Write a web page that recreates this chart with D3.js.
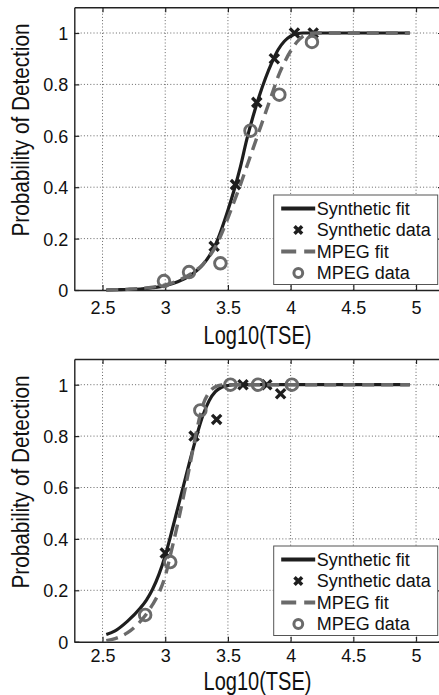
<!DOCTYPE html>
<html>
<head>
<meta charset="utf-8">
<script src="https://cdn.jsdelivr.net/npm/d3@7"></script>
<style>
  html, body { margin: 0; padding: 0; background: #fff; }
  svg { display: block; font-family: "Liberation Sans", Arial, Helvetica, sans-serif; }
</style>
</head>
<body>
<svg id="chart" width="439" height="695"></svg>
<script>
// ---- axis ticks ----
const xTicks = [2.5, 3, 3.5, 4, 4.5, 5];
const xTickLabels = ["2.5", "3", "3.5", "4", "4.5", "5"];
const yTicks = [0, 0.2, 0.4, 0.6, 0.8, 1];
const yTickLabels = ["0", "0.2", "0.4", "0.6", "0.8", "1"];
const xLabel = "Log10(TSE)";
const yLabel = "Probability of Detection";
const legendLabels = ["Synthetic fit", "Synthetic data", "MPEG fit", "MPEG data"];

// ---- upper panel ----
const topFitTSE   = [2.53, 2.6, 2.7, 2.8, 2.9, 3.0, 3.1, 3.2, 3.3, 3.4, 3.5, 3.55, 3.6, 3.65, 3.7, 3.75, 3.8, 3.85, 3.9, 3.95, 4.0, 4.05, 4.1, 4.15, 4.2, 4.5, 4.95];
const topSynthFit = [0.000, 0.001, 0.002, 0.004, 0.009, 0.017, 0.032, 0.057, 0.098, 0.175, 0.31, 0.39, 0.48, 0.585, 0.675, 0.755, 0.825, 0.885, 0.935, 0.968, 0.988, 0.997, 1, 1, 1, 1, 1];
const topMpegFit  = [0.000, 0.001, 0.003, 0.006, 0.011, 0.020, 0.036, 0.062, 0.10, 0.168, 0.28, 0.345, 0.41, 0.48, 0.55, 0.62, 0.69, 0.76, 0.83, 0.885, 0.93, 0.965, 0.988, 0.998, 1, 1, 1];
const topSynthTSE = [3.39, 3.56, 3.73, 3.87, 4.03, 4.18];
const topSynthPd  = [0.17, 0.41, 0.73, 0.90, 1.0, 1.0];
const topMpegTSE  = [2.99, 3.19, 3.44, 3.68, 3.91, 4.17];
const topMpegPd   = [0.035, 0.07, 0.104, 0.62, 0.76, 0.965];

// ---- lower panel ----
const bottomFitTSE   = [2.53, 2.6, 2.7, 2.8, 2.85, 2.9, 2.95, 3.0, 3.05, 3.1, 3.15, 3.2, 3.25, 3.3, 3.35, 3.4, 3.45, 3.5, 3.55, 3.6, 4.0, 4.5, 4.95];
const bottomSynthFit = [0.028, 0.042, 0.08, 0.13, 0.162, 0.205, 0.262, 0.335, 0.425, 0.52, 0.615, 0.71, 0.80, 0.88, 0.938, 0.973, 0.99, 0.997, 1, 1, 1, 1, 1];
const bottomMpegFit  = [0.004, 0.012, 0.035, 0.078, 0.108, 0.145, 0.19, 0.255, 0.355, 0.46, 0.575, 0.695, 0.82, 0.92, 0.97, 0.992, 0.999, 1, 1, 1, 1, 1, 1];
const bottomSynthTSE = [3.0, 3.23, 3.41, 3.62, 3.81, 3.92];
const bottomSynthPd  = [0.345, 0.80, 0.865, 1.0, 1.0, 0.965];
const bottomMpegTSE  = [2.84, 3.04, 3.28, 3.52, 3.74, 4.01];
const bottomMpegPd   = [0.104, 0.31, 0.90, 1.0, 1.0, 1.0];

// ---- styling ----
const DARK = "#1e1e1e";
const GREY = "#6a6a6a";
const AXIS = "#222";
const DASH = "12,7";

const svg = d3.select("#chart");

const xDomain = [2.275, 5.215];
const yDomain = [0, 1.1];
const plotLeft = 74.3, plotRight = 443;

const panels = [
  { top: 7.3, bottom: 290, tickBase: 24, labelBase: 344.3, yLabelMid: 130, legendTop: 195,
    fitX: topFitTSE, synthFit: topSynthFit, mpegFit: topMpegFit,
    synthX: topSynthTSE, synthY: topSynthPd, mpegX: topMpegTSE, mpegY: topMpegPd },
  { top: 359, bottom: 641.7, tickBase: 20.8, labelBase: 689.5, yLabelMid: 482, legendTop: 546,
    fitX: bottomFitTSE, synthFit: bottomSynthFit, mpegFit: bottomMpegFit,
    synthX: bottomSynthTSE, synthY: bottomSynthPd, mpegX: bottomMpegTSE, mpegY: bottomMpegPd }
];

function crossPath(h) {
  return `M${-h},${-h}L${h},${h}M${-h},${h}L${h},${-h}`;
}

panels.forEach(p => {
  const x = d3.scaleLinear().domain(xDomain).range([plotLeft, plotRight]);
  const y = d3.scaleLinear().domain(yDomain).range([p.bottom, p.top]);
  const g = svg.append("g");

  // dotted grid
  const grid = g.append("g").attr("stroke", "#666").attr("stroke-width", 1)
    .attr("stroke-dasharray", "1,2.2");
  grid.selectAll("line.v").data(xTicks).join("line").attr("class", "v")
    .attr("x1", d => x(d)).attr("x2", d => x(d))
    .attr("y1", y(yDomain[1])).attr("y2", y(yDomain[0]));
  grid.selectAll("line.h").data(yTicks.filter(d => d > 0)).join("line").attr("class", "h")
    .attr("y1", d => y(d)).attr("y2", d => y(d))
    .attr("x1", x(xDomain[0])).attr("x2", x(xDomain[1]));

  // axes with inward ticks
  const styleAxis = sel => {
    sel.select(".domain").attr("stroke", AXIS).attr("stroke-width", 1.4);
    sel.selectAll(".tick line").attr("stroke", AXIS).attr("stroke-width", 1.2);
    sel.selectAll("text").attr("fill", "#111").attr("font-size", 18)
      .attr("font-family", "Liberation Sans, Arial, sans-serif");
  };
  const xb = g.append("g").attr("transform", `translate(0,${y(0)})`)
    .call(d3.axisBottom(x).tickValues(xTicks).tickFormat((d, i) => xTickLabels[i])
      .tickSizeInner(-5).tickSizeOuter(0));
  styleAxis(xb);
  xb.selectAll("text").attr("y", p.tickBase).attr("dy", 0);

  const xt = g.append("g").attr("transform", `translate(0,${y(yDomain[1])})`)
    .call(d3.axisTop(x).tickValues(xTicks).tickFormat("").tickSizeInner(-5).tickSizeOuter(0));
  styleAxis(xt);

  const yl = g.append("g").attr("transform", `translate(${x(xDomain[0])},0)`)
    .call(d3.axisLeft(y).tickValues(yTicks).tickFormat((d, i) => yTickLabels[i])
      .tickSizeInner(-5).tickSizeOuter(0).tickPadding(6));
  styleAxis(yl);
  yl.selectAll("text").attr("dy", "0.36em");

  const yr = g.append("g").attr("transform", `translate(${x(xDomain[1])},0)`)
    .call(d3.axisRight(y).tickValues(yTicks).tickFormat("").tickSizeInner(-5).tickSizeOuter(0));
  styleAxis(yr);

  // axis titles
  g.append("text").attr("x", 257.5).attr("y", p.labelBase)
    .attr("text-anchor", "middle").attr("font-size", 25).attr("fill", "#111")
    .attr("textLength", 108).attr("lengthAdjust", "spacingAndGlyphs")
    .text(xLabel);
  g.append("text")
    .attr("transform", `translate(28.5,${p.yLabelMid}) rotate(-90)`)
    .attr("text-anchor", "middle").attr("font-size", 23).attr("fill", "#111")
    .attr("textLength", 213).attr("lengthAdjust", "spacingAndGlyphs")
    .text(yLabel);

  // curves and markers
  const line = d3.line().x(d => x(d[0])).y(d => y(d[1])).curve(d3.curveMonotoneX);
  const synthFitPts = p.fitX.map((v, i) => [v, p.synthFit[i]]);
  const mpegFitPts = p.fitX.map((v, i) => [v, p.mpegFit[i]]);

  g.append("path").datum(synthFitPts).attr("d", line)
    .attr("fill", "none").attr("stroke", DARK).attr("stroke-width", 3.2);

  g.append("g").selectAll("path").data(p.synthX.map((v, i) => [v, p.synthY[i]])).join("path")
    .attr("transform", d => `translate(${x(d[0])},${y(d[1])})`)
    .attr("d", crossPath(4.6)).attr("stroke", DARK).attr("stroke-width", 3.3).attr("fill", "none");

  g.append("path").datum(mpegFitPts).attr("d", line)
    .attr("fill", "none").attr("stroke", GREY).attr("stroke-width", 3.4)
    .attr("stroke-dasharray", DASH);

  g.append("g").selectAll("circle").data(p.mpegX.map((v, i) => [v, p.mpegY[i]])).join("circle")
    .attr("cx", d => x(d[0])).attr("cy", d => y(d[1])).attr("r", 5.8)
    .attr("fill", "none").attr("stroke", GREY).attr("stroke-width", 2.9);

  // legend
  const lg = g.append("g").attr("transform", `translate(273.7,${p.legendTop})`);
  lg.append("rect").attr("width", 164).attr("height", 89.5)
    .attr("fill", "#fff").attr("stroke", "#555").attr("stroke-width", 1);
  const rows = [13.5, 35, 56.5, 78];
  lg.append("line").attr("x1", 7.5).attr("x2", 41.5).attr("y1", rows[0]).attr("y2", rows[0])
    .attr("stroke", DARK).attr("stroke-width", 4.2);
  lg.append("path").attr("transform", `translate(24.6,${rows[1]})`).attr("d", crossPath(3.8))
    .attr("stroke", DARK).attr("stroke-width", 3.5).attr("fill", "none");
  lg.append("line").attr("x1", 7.5).attr("x2", 41.5).attr("y1", rows[2]).attr("y2", rows[2])
    .attr("stroke", GREY).attr("stroke-width", 4.2).attr("stroke-dasharray", "15,8");
  lg.append("circle").attr("cx", 24.6).attr("cy", rows[3]).attr("r", 4.4)
    .attr("fill", "none").attr("stroke", GREY).attr("stroke-width", 3);
  lg.selectAll("text").data(legendLabels).join("text")
    .attr("x", 43).attr("y", (d, i) => rows[i]).attr("dy", "0.36em")
    .attr("font-size", 18).attr("fill", "#111").text(d => d);
});
</script>
</body>
</html>
